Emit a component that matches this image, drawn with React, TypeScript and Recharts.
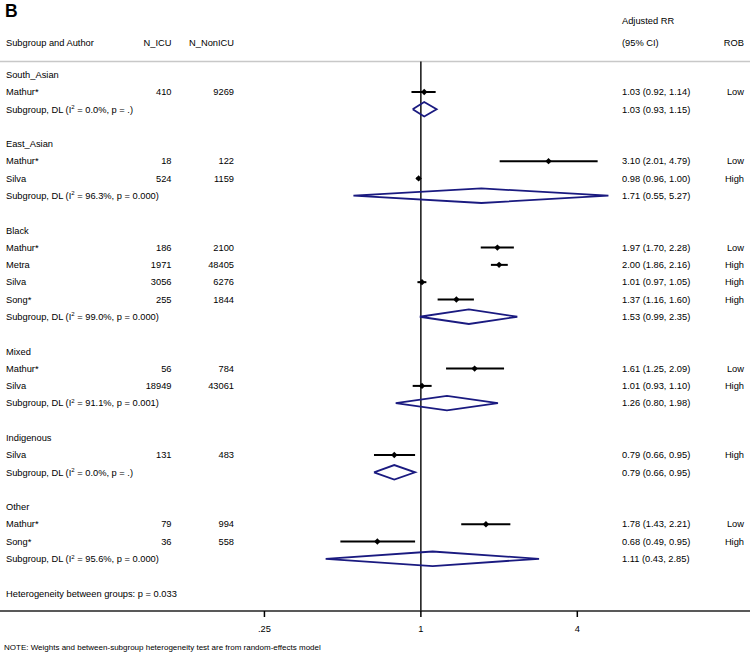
import React from 'react';
import { ComposedChart, XAxis, YAxis, Line, Scatter, ReferenceLine } from 'recharts';

// row index -> vertical position (one row per table line)
const groupHeaders = [
  { row: 0, name: 'South_Asian' },
  { row: 4, name: 'East_Asian' },
  { row: 9, name: 'Black' },
  { row: 16, name: 'Mixed' },
  { row: 21, name: 'Indigenous' },
  { row: 25, name: 'Other' },
];

const studies = [
  { row: 1, author: 'Mathur*', nIcu: 410, nNonIcu: 9269, rr: 1.03, lo: 0.92, hi: 1.14, rob: 'Low' },
  { row: 5, author: 'Mathur*', nIcu: 18, nNonIcu: 122, rr: 3.10, lo: 2.01, hi: 4.79, rob: 'Low' },
  { row: 6, author: 'Silva', nIcu: 524, nNonIcu: 1159, rr: 0.98, lo: 0.96, hi: 1.00, rob: 'High' },
  { row: 10, author: 'Mathur*', nIcu: 186, nNonIcu: 2100, rr: 1.97, lo: 1.70, hi: 2.28, rob: 'Low' },
  { row: 11, author: 'Metra', nIcu: 1971, nNonIcu: 48405, rr: 2.00, lo: 1.86, hi: 2.16, rob: 'High' },
  { row: 12, author: 'Silva', nIcu: 3056, nNonIcu: 6276, rr: 1.01, lo: 0.97, hi: 1.05, rob: 'High' },
  { row: 13, author: 'Song*', nIcu: 255, nNonIcu: 1844, rr: 1.37, lo: 1.16, hi: 1.60, rob: 'High' },
  { row: 17, author: 'Mathur*', nIcu: 56, nNonIcu: 784, rr: 1.61, lo: 1.25, hi: 2.09, rob: 'Low' },
  { row: 18, author: 'Silva', nIcu: 18949, nNonIcu: 43061, rr: 1.01, lo: 0.93, hi: 1.10, rob: 'High' },
  { row: 22, author: 'Silva', nIcu: 131, nNonIcu: 483, rr: 0.79, lo: 0.66, hi: 0.95, rob: 'High' },
  { row: 26, author: 'Mathur*', nIcu: 79, nNonIcu: 994, rr: 1.78, lo: 1.43, hi: 2.21, rob: 'Low' },
  { row: 27, author: 'Song*', nIcu: 36, nNonIcu: 558, rr: 0.68, lo: 0.49, hi: 0.95, rob: 'High' },
];

const subgroups = [
  { row: 2, i2: '0.0%', p: '.', rr: 1.03, lo: 0.93, hi: 1.15 },
  { row: 7, i2: '96.3%', p: '0.000', rr: 1.71, lo: 0.55, hi: 5.27 },
  { row: 14, i2: '99.0%', p: '0.000', rr: 1.53, lo: 0.99, hi: 2.35 },
  { row: 19, i2: '91.1%', p: '0.001', rr: 1.26, lo: 0.80, hi: 1.98 },
  { row: 23, i2: '0.0%', p: '.', rr: 0.79, lo: 0.66, hi: 0.95 },
  { row: 28, i2: '95.6%', p: '0.000', rr: 1.11, lo: 0.43, hi: 2.85 },
];

const heterogeneityRow = 30;
const heterogeneityText = 'Heterogeneity between groups: p = 0.033';
const noteText = 'NOTE: Weights and between-subgroup heterogeneity test are from random-effects model';

const xTicks = [0.25, 1, 4];
const xTickLabels = ['.25', '1', '4'];

const FONT = '"Liberation Sans", Arial, sans-serif';
const FS = 9.3;
const NAVY = '#1a1a80';

const fmt = (v: number) => v.toFixed(2);
const ciText = (rr: number, lo: number, hi: number) => `${fmt(rr)} (${fmt(lo)}, ${fmt(hi)})`;

const textRows = [
  { x: 1, y: -3.68, kind: 'title' },
  { x: 1, y: -3.1, kind: 'head1' },
  { x: 1, y: -1.86, kind: 'head2' },
  ...groupHeaders.map((g) => ({ x: 1, y: g.row, kind: 'group', g })),
  ...studies.map((s) => ({ x: 1, y: s.row, kind: 'study', s })),
  ...subgroups.map((s) => ({ x: 1, y: s.row, kind: 'sub', s })),
  { x: 1, y: heterogeneityRow, kind: 'het' },
];

const T = (p: any) => (
  <text fontFamily={FONT} fontSize={FS} fill="#000" dy="0.35em" {...p} />
);

const TableRow = (props: any) => {
  const { cy, payload } = props;
  const k = payload.kind;
  if (k === 'title')
    return <text x={5} y={cy} dy="0.35em" fontFamily={FONT} fontSize={17.5} fontWeight="bold">B</text>;
  if (k === 'head1') return <T x={622} y={cy}>Adjusted RR</T>;
  if (k === 'head2')
    return (
      <g>
        <T x={6} y={cy}>Subgroup and Author</T>
        <T x={171.5} y={cy} textAnchor="end">N_ICU</T>
        <T x={234} y={cy} textAnchor="end">N_NonICU</T>
        <T x={622} y={cy}>(95% CI)</T>
        <T x={744} y={cy} textAnchor="end">ROB</T>
      </g>
    );
  if (k === 'group') return <T x={6} y={cy}>{payload.g.name}</T>;
  if (k === 'het') return <T x={6} y={cy}>{heterogeneityText}</T>;
  if (k === 'study') {
    const s = payload.s;
    return (
      <g>
        <T x={6} y={cy}>{s.author}</T>
        <T x={171.5} y={cy} textAnchor="end">{s.nIcu}</T>
        <T x={234} y={cy} textAnchor="end">{s.nNonIcu}</T>
        <T x={622} y={cy}>{ciText(s.rr, s.lo, s.hi)}</T>
        <T x={744} y={cy} textAnchor="end">{s.rob}</T>
      </g>
    );
  }
  const s = payload.s;
  return (
    <g>
      <text x={6} y={cy} dy="0.35em" fontFamily={FONT} fontSize={FS} fill="#000">
        Subgroup, DL (I
        <tspan fontSize={6} dy={-3.5}>2</tspan>
        <tspan dy={3.5}>{` = ${s.i2}, p = ${s.p})`}</tspan>
      </text>
      <T x={622} y={cy}>{ciText(s.rr, s.lo, s.hi)}</T>
    </g>
  );
};

const Marker = (props: any) => {
  const { cx, cy } = props;
  const r = 3.2;
  return <polygon points={`${cx - r},${cy} ${cx},${cy - r} ${cx + r},${cy} ${cx},${cy + r}`} fill="#000" />;
};

const NoteLabel = () => (
  <text x={4} y={647} dy="0.35em" fontFamily={FONT} fontSize={8} fill="#000">{noteText}</text>
);

const App: React.FC = () => {
  return (
    <div style={{ position: 'absolute', left: 0, top: 0, width: 750, height: 654, background: '#fff' }}>
      <ComposedChart width={750} height={654} margin={{ top: 0, right: 0, bottom: 0, left: 0 }}>
        <XAxis
          dataKey="x"
          type="number"
          scale="log"
          domain={[0.024, 18.48]}
          allowDataOverflow
          ticks={xTicks}
          interval={0}
          tickFormatter={(v: number) => xTickLabels[xTicks.indexOf(v)] ?? String(v)}
          height={43}
          tickSize={6}
          tickMargin={8}
          axisLine={{ stroke: '#222', strokeWidth: 1.6 }}
          tickLine={{ stroke: '#000', strokeWidth: 1.5 }}
          tick={{ fill: '#000', fontSize: FS, fontFamily: FONT }}
          label={{ content: NoteLabel }}
        />
        <YAxis dataKey="y" type="number" hide reversed domain={[-4.32, 31.02]} allowDataOverflow />
        <ReferenceLine y={-0.76} stroke="#c8c8c8" strokeWidth={1.5} />
        <ReferenceLine segment={[{ x: 1, y: -0.76 }, { x: 1, y: 31.02 }]} stroke="#000" strokeWidth={1.4} />
        {studies.map((s) => (
          <Line
            key={`ci-${s.row}`}
            data={[{ x: s.lo, y: s.row }, { x: s.hi, y: s.row }]}
            dataKey="y"
            type="linear"
            stroke="#000"
            strokeWidth={2}
            dot={false}
            activeDot={false}
            isAnimationActive={false}
          />
        ))}
        {subgroups.map((s) => (
          <Line
            key={`dia-${s.row}`}
            data={[
              { x: s.lo, y: s.row },
              { x: s.rr, y: s.row - 0.42 },
              { x: s.hi, y: s.row },
              { x: s.rr, y: s.row + 0.42 },
              { x: s.lo, y: s.row },
            ]}
            dataKey="y"
            type="linear"
            stroke={NAVY}
            strokeWidth={1.8}
            dot={false}
            activeDot={false}
            isAnimationActive={false}
          />
        ))}
        <Scatter
          data={studies.map((s) => ({ x: s.rr, y: s.row }))}
          shape={<Marker />}
          isAnimationActive={false}
        />
        <Scatter data={textRows} shape={(p: any) => <TableRow {...p} />} isAnimationActive={false} />
      </ComposedChart>
    </div>
  );
};

export default App;
